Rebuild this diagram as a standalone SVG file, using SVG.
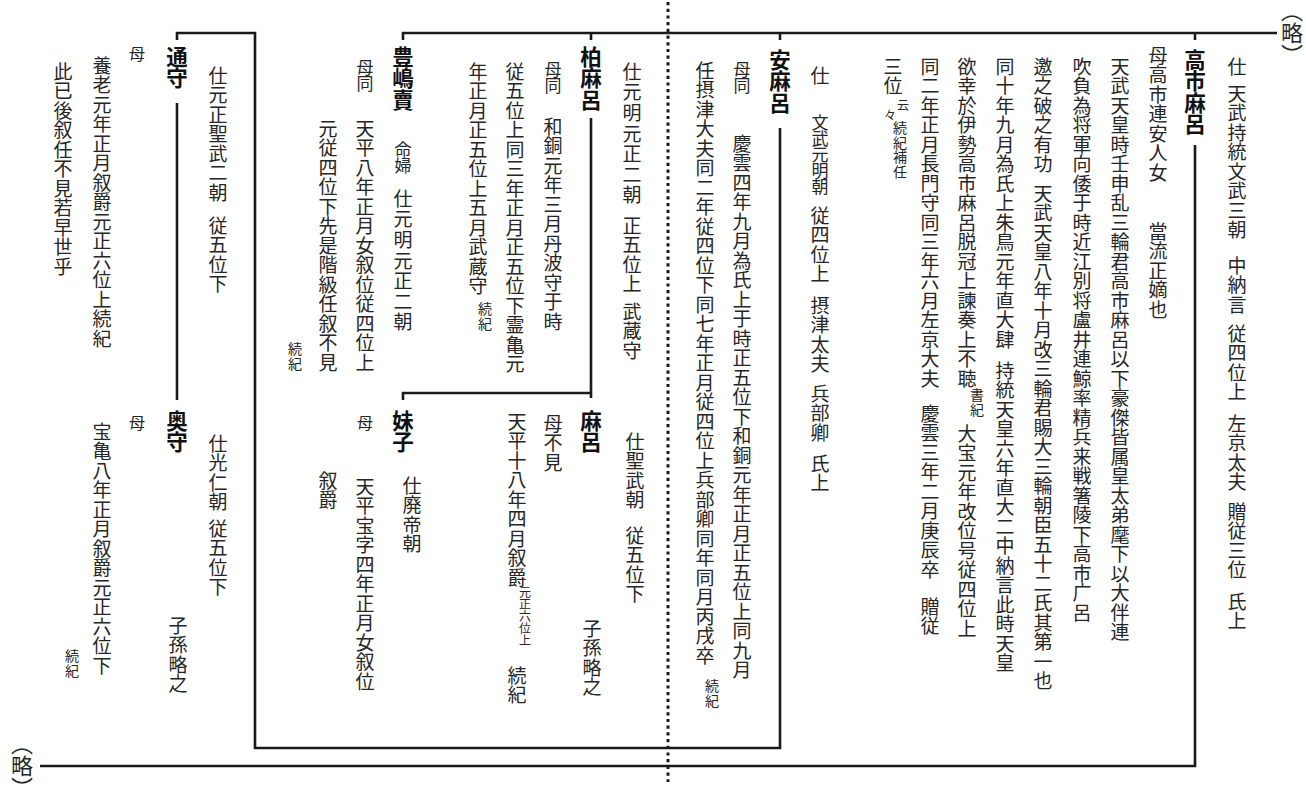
<svg xmlns="http://www.w3.org/2000/svg" width="1306" height="785" viewBox="0 0 1306 785">
<style>
.v{writing-mode:vertical-rl;font-family:"Noto Sans CJK JP","Noto Sans CJK SC",sans-serif;font-size:19px;letter-spacing:0.5px;fill:#262626}
.nm{writing-mode:vertical-rl;font-family:"Noto Sans CJK JP","Noto Sans CJK SC",sans-serif;font-size:21.5px;font-weight:700;fill:#111}
.s{font-size:14px;letter-spacing:0.5px}
.xs{font-size:12px;letter-spacing:0}
.m17{font-size:17px;letter-spacing:-1px}
.m16{font-size:16px;letter-spacing:0}
.w{letter-spacing:1.6px}
.ln{fill:none;stroke:#1a1a1a;stroke-width:2.6}
.dot{fill:none;stroke:#1a1a1a;stroke-width:3;stroke-dasharray:3.2 3.5}
.ry{writing-mode:vertical-rl;font-family:"Noto Sans CJK JP",sans-serif;font-size:22px;letter-spacing:0;fill:#262626}
</style>

<g id="connectors">
  <line class="dot" x1="668" y1="2" x2="668" y2="782"/>
  <path class="ln" d="M1277,33 H403 V40"/>
  <path class="ln" d="M1195,33 V40 M1195,145 V766 H40"/>
  <path class="ln" d="M780,33 V40 M780,128 V748 H255 V33 H177 V40 M177,103 V400"/>
  <path class="ln" d="M591,33 V40 M591,118 V398 M591,393 H403 V400"/>
</g>

<g id="ryaku-top">
  <text class="ry" x="1292" y="0">︵略︶</text>
</g>
<g id="ryaku-bottom">
  <text class="ry" x="22" y="733">︵略︶</text>
</g>

<g id="takechimaro">
  <text class="nm" x="1195" y="49">高市麻呂</text>
  <text class="v" x="1237" y="57">仕</text>
  <text class="v" x="1237" y="84">天武持統文武三朝</text>
  <text class="v" x="1237" y="256">中納言</text>
  <text class="v" x="1237" y="324">従四位上</text>
  <text class="v" x="1237" y="414">左京太夫</text>
  <text class="v" x="1237" y="502">贈従三位</text>
  <text class="v" x="1237" y="592">氏上</text>
  <text class="v" x="1158" y="46">母高市連安人女</text>
  <text class="v" x="1158" y="222">當流正嫡也</text>
  <text class="v" x="1120" y="57">天武天皇時壬申乱三輪君高市麻呂以下豪傑皆属皇太弟麾下以大伴連</text>
  <text class="v" x="1082" y="57">吹負為将軍向倭于時近江別将盧井連鯨率精兵来戦箸陵下高市广呂</text>
  <text class="v" x="1043" y="57">邀之破之有功</text>
  <text class="v" x="1043" y="184">天武天皇八年十月改三輪君賜大三輪朝臣五十二氏其第一也</text>
  <text class="v" x="1005" y="57">同十年九月為氏上朱鳥元年直大肆</text>
  <text class="v" x="1005" y="361">持統天皇六年直大二中納言此時天皇</text>
  <text class="v" x="967" y="57">欲幸於伊勢高市麻呂脱冠上諫奏上不聴</text>
  <text class="v s" x="977" y="388">書紀</text>
  <text class="v" x="967" y="424">大宝元年改位号従四位上</text>
  <text class="v" x="930" y="57">同二年正月長門守同三年六月左京大夫</text>
  <text class="v" x="930" y="404">慶雲三年二月庚辰卒</text>
  <text class="v" x="930" y="597">贈従</text>
  <text class="v" x="893" y="57">三位</text>
  <text class="v xs" x="903" y="99">云</text>
  <text class="v xs" x="890" y="109">々</text>
  <text class="v s" x="900" y="121">続紀補任</text>
</g>

<g id="yasumaro">
  <text class="nm" x="780" y="49">安麻呂</text>
  <text class="v" x="820" y="66">仕</text>
  <text class="v m17" x="820" y="114">文武元明朝</text>
  <text class="v" x="820" y="206">従四位上</text>
  <text class="v" x="820" y="296">摂津太夫</text>
  <text class="v" x="820" y="384">兵部卿</text>
  <text class="v" x="820" y="454">氏上</text>
  <text class="v m17" x="742" y="61">母同</text>
  <text class="v" x="742" y="134">慶雲四年九月為氏上于時正五位下和銅元年正月正五位上同九月</text>
  <text class="v" x="705" y="61">任摂津大夫同二年従四位下同七年正月従四位上兵部卿同年同月丙戌卒</text>
  <text class="v s" x="712" y="679">続紀</text>
</g>

<g id="kashiwamaro">
  <text class="nm" x="591" y="46">柏麻呂</text>
  <text class="v w" x="632" y="62">仕元明元正二朝</text>
  <text class="v" x="632" y="216">正五位上</text>
  <text class="v" x="632" y="302">武蔵守</text>
  <text class="v m17" x="553" y="61">母同</text>
  <text class="v" x="553" y="117">和銅元年三月丹波守于時</text>
  <text class="v" x="515" y="62">従五位上同三年正月正五位下霊亀元</text>
  <text class="v" x="478" y="62">年正月正五位上五月武蔵守</text>
  <text class="v s" x="485" y="302">続紀</text>
</g>

<g id="maro">
  <text class="nm" x="591" y="410">麻呂</text>
  <text class="v" x="635" y="432">仕聖武朝</text>
  <text class="v" x="635" y="526">従五位下</text>
  <text class="v" x="592" y="619">子孫略之</text>
  <text class="v" x="553" y="414">母不見</text>
  <text class="v" x="517" y="412">天平十八年四月叙爵</text>
  <text class="v xs" x="525" y="586">元正六位上</text>
  <text class="v" x="517" y="666">続紀</text>
</g>

<g id="toshimame">
  <text class="nm" x="403" y="46">豊嶋賣</text>
  <text class="v m17" x="403" y="141">命婦</text>
  <text class="v w" x="403" y="189">仕元明元正二朝</text>
  <text class="v m17" x="365" y="59">母同</text>
  <text class="v" x="365" y="119">天平八年正月女叙位従四位上</text>
  <text class="v" x="328" y="119">元従四位下先是階級任叙不見</text>
  <text class="v s" x="295" y="342">続紀</text>
</g>

<g id="imoko">
  <text class="nm" x="403" y="410">妹子</text>
  <text class="v" x="412" y="476">仕廃帝朝</text>
  <text class="v m16" x="365" y="415">母</text>
  <text class="v" x="365" y="477">天平宝字四年正月女叙位</text>
  <text class="v" x="328" y="471">叙爵</text>
</g>

<g id="michimori">
  <text class="nm" x="177" y="46">通守</text>
  <text class="v" x="218" y="66">仕元正聖武二朝</text>
  <text class="v" x="218" y="216">従五位下</text>
  <text class="v m16" x="137" y="46">母</text>
  <text class="v" x="102" y="56">養老元年正月叙爵元正六位上続紀</text>
  <text class="v" x="63" y="62">此已後叙任不見若早世乎</text>
</g>

<g id="okimori">
  <text class="nm" x="177" y="410">奥守</text>
  <text class="v" x="218" y="434">仕光仁朝</text>
  <text class="v" x="218" y="519">従五位下</text>
  <text class="v" x="178" y="616">子孫略之</text>
  <text class="v m16" x="137" y="415">母</text>
  <text class="v" x="102" y="422">宝亀八年正月叙爵元正六位下</text>
  <text class="v s" x="72" y="649">続紀</text>
</g>
</svg>
